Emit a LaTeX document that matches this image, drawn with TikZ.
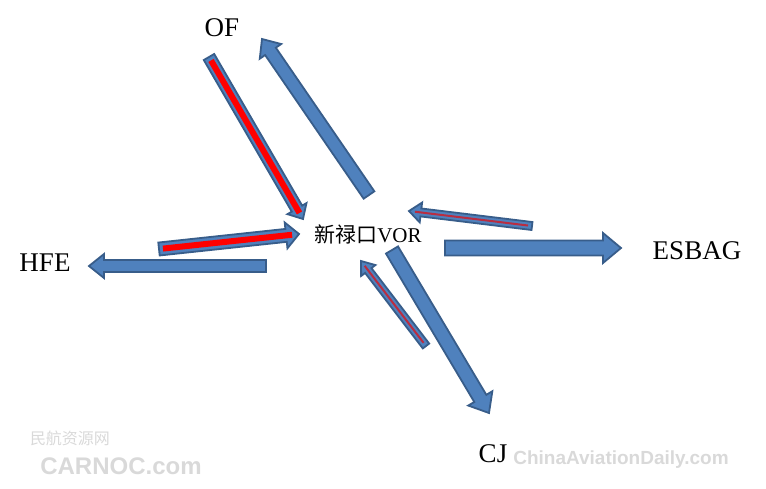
\documentclass[tikz,border=0pt]{standalone}
\usepackage{fontspec}
\setmainfont{Liberation Serif}
\setsansfont{Liberation Sans}
\newfontfamily\cjk{Noto Sans CJK SC}
\usetikzlibrary{calc}
\definecolor{arrowblue}{RGB}{79,129,189}
\definecolor{arrowedge}{RGB}{56,93,138}
\definecolor{darkred}{RGB}{185,45,65}

% block arrow: from, to, half shaft, half head, head length
\newcommand{\blockarrow}[5]{%
  \coordinate (hb) at ($(#2)!#5!(#1)$);
  \draw[body] ($(#1)!#3!90:(#2)$) -- ($(hb)!#3!90:(#2)$) -- ($(hb)!#4!90:(#2)$) -- (#2)
    -- ($(hb)!#4!-90:(#2)$) -- ($(hb)!#3!-90:(#2)$) -- ($(#1)!#3!-90:(#2)$) -- cycle;}

\begin{document}
\begin{tikzpicture}[x=1pt,y=-1pt]
  \tikzstyle{fix}=[font=\fontsize{27}{30}\selectfont]
  \tikzstyle{body}=[draw=arrowedge, line width=1.8pt, fill=arrowblue, line join=miter]
  \tikzstyle{core}=[red, line width=6pt]
  \tikzstyle{thincore}=[darkred, line width=2pt]
  \tikzstyle{wmark}=[text=gray!30]

  \useasboundingbox (0,0) rectangle (766,488);

  \node[fix] (of) at (222,28) {OF};
  \node[fix] (hfe) at (45,263) {HFE};
  \node[fix] (esbag) at (697,251) {ESBAG};
  \node[fix] (cj) at (493,454) {CJ};
  \node[font=\fontsize{21}{24}\selectfont] (vor) at (368,234) {{\cjk 新禄口}VOR};

  \coordinate (of1) at (209,57);   \coordinate (of2) at (303,219);
  \coordinate (of3) at (369,195);  \coordinate (of4) at (262,39);
  \coordinate (hfe1) at (159,249); \coordinate (hfe2) at (299,234);
  \coordinate (hfe3) at (266,266); \coordinate (hfe4) at (89,266);
  \coordinate (es1) at (532,226);  \coordinate (es2) at (409,211);
  \coordinate (es3) at (445,248);  \coordinate (es4) at (621,248);
  \coordinate (cj1) at (392,250);  \coordinate (cj2) at (489,413);
  \coordinate (cj3) at (426,346);  \coordinate (cj4) at (361,261);

  % OF
  \blockarrow{of1}{of2}{6pt}{11pt}{12pt}
  \draw[core] ($(of1)!4pt!(of2)$) -- ($(of2)!7pt!(of1)$);
  \blockarrow{of3}{of4}{6.5pt}{13pt}{15pt}

  % HFE
  \blockarrow{hfe1}{hfe2}{6.5pt}{13pt}{13pt}
  \draw[core] ($(hfe1)!4pt!(hfe2)$) -- ($(hfe2)!7pt!(hfe1)$);
  \blockarrow{hfe3}{hfe4}{6pt}{12pt}{15pt}

  % ESBAG
  \blockarrow{es1}{es2}{4pt}{10pt}{12pt}
  \draw[thincore] ($(es1)!4pt!(es2)$) -- ($(es2)!6pt!(es1)$);
  \blockarrow{es3}{es4}{7.5pt}{15pt}{18pt}

  % CJ
  \blockarrow{cj1}{cj2}{7pt}{14pt}{17pt}
  \blockarrow{cj3}{cj4}{4pt}{9pt}{12pt}
  \draw[thincore] ($(cj3)!4pt!(cj4)$) -- ($(cj4)!6pt!(cj3)$);

  \node[wmark, font=\cjk\fontsize{16}{16}\selectfont] (wm1) at (70,438) {民航资源网};
  \node[wmark, font=\sffamily\bfseries\fontsize{24}{24}\selectfont] (wm2) at (121,466) {CARNOC.com};
  \node[wmark, font=\sffamily\bfseries\fontsize{19}{19}\selectfont] (wm3) at (621,460) {ChinaAviationDaily.com};
\end{tikzpicture}
\end{document}
